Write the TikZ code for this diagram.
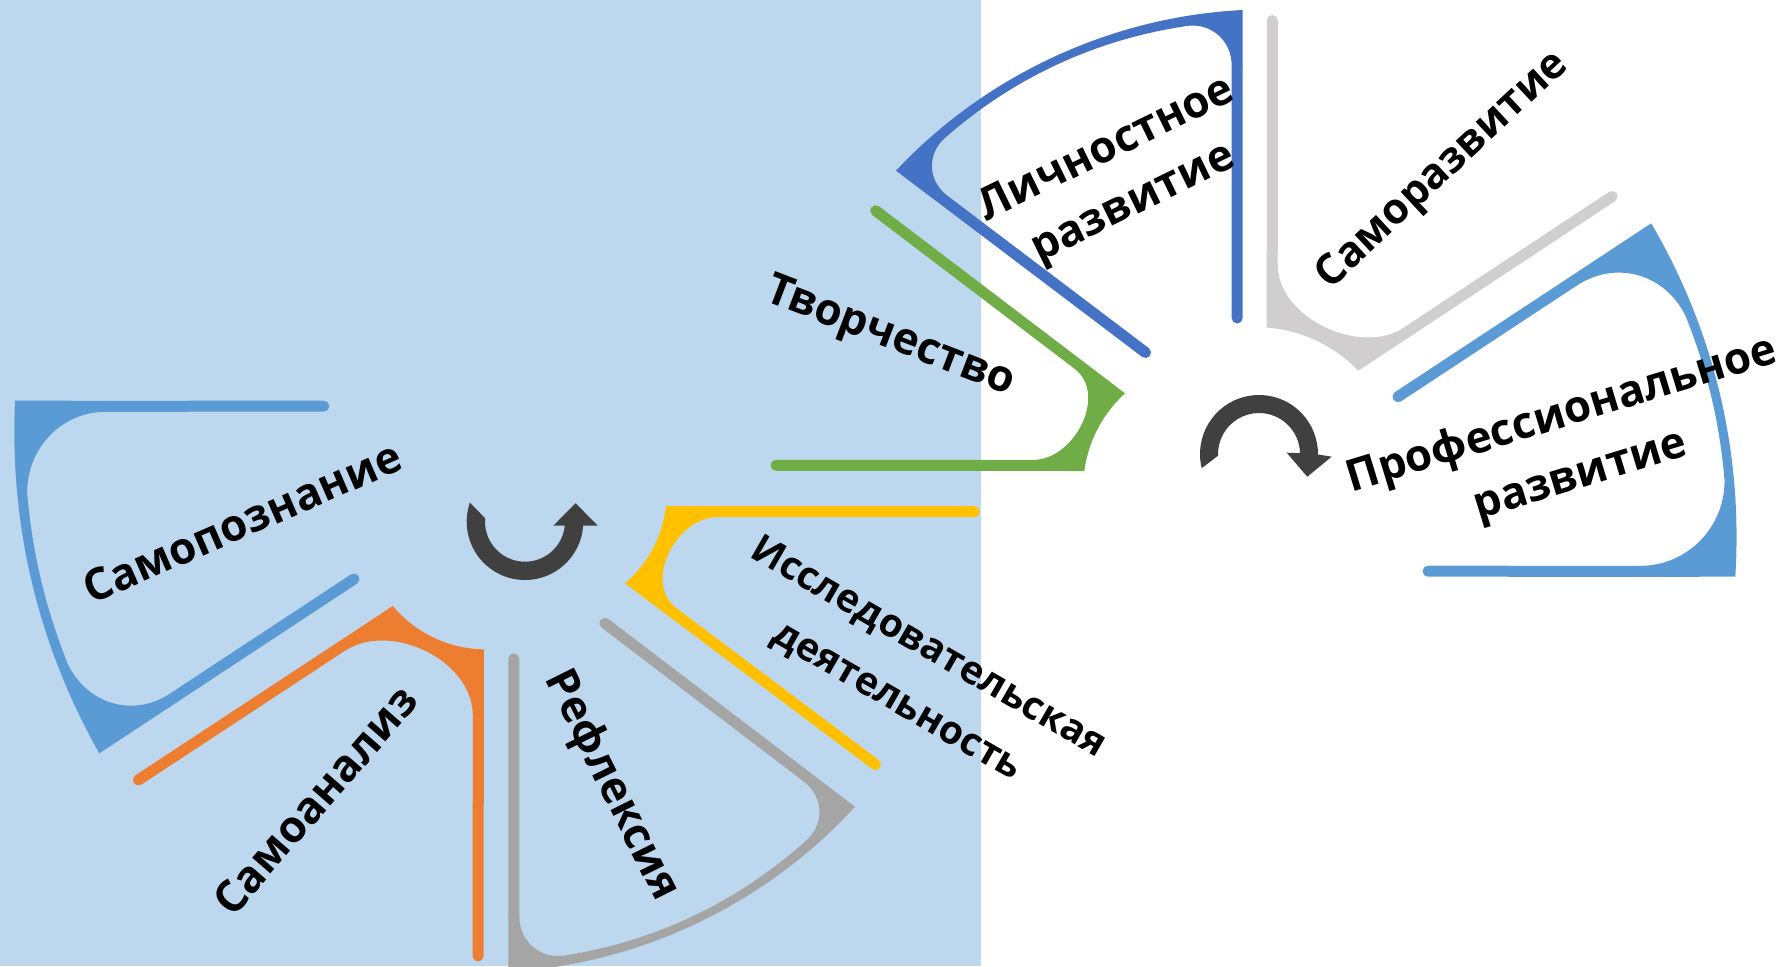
\documentclass[tikz,border=0pt]{standalone}
\usepackage{fontspec}
\setmainfont{Open Sans}
\usetikzlibrary{calc}
\definecolor{bgblue}{HTML}{BDD7EE}
\definecolor{cLich}{HTML}{4472C4}
\definecolor{cSamoraz}{HTML}{D0CECE}
\definecolor{cProf}{HTML}{5B9BD5}
\definecolor{cTvor}{HTML}{70AD47}
\definecolor{cIssl}{HTML}{FFC000}
\definecolor{cRefl}{HTML}{A5A5A5}
\definecolor{cSamoan}{HTML}{ED7D31}
\definecolor{cSamopoz}{HTML}{5B9BD5}
\definecolor{arrowgray}{HTML}{404040}
\def\W{5.5pt}
\def\Wh{2.75pt}
\newcommand\segbase[6]{%
  \coordinate (E1) at (#1);
  \coordinate (Q1) at (#2);
  \coordinate (Q2) at (#3);
  \coordinate (E2) at (#4);
  \pgfmathsetmacro\bb{#5}%
  \pgfmathsetmacro\bo{-(#5)}%
  \pgfmathsetmacro\bi{180+(#5)}%
  \pgfmathsetmacro\aone{90-(#5)}%
  \pgfmathsetmacro\atwo{(#5)-90}%
  \def\R{#6}%
  \coordinate (La) at ($(Q1)!\W!-90:(E1)$);
  \coordinate (Lb) at ($(E1)!\Wh!90:(Q1)$);
  \coordinate (Ma) at ($(Q2)!\W!90:(E2)$);
  \coordinate (Mb) at ($(E2)!\Wh!-90:(Q2)$);
  \coordinate (O1a) at ($(Q1)!\W!\aone:(Q2)$);
  \coordinate (D1) at ($(Q1)!10pt!\bo:(Q2)$);
  \coordinate (O1b) at ($(O1a)+(D1)-(Q1)$);
  \coordinate (O2a) at ($(Q2)!\W!\atwo:(Q1)$);
  \coordinate (D2) at ($(Q2)!10pt!\bb:(Q1)$);
  \coordinate (O2b) at ($(O2a)+(D2)-(Q2)$);
  \coordinate (I1) at (intersection of La--Lb and O1a--O1b);
  \coordinate (I2) at (intersection of Ma--Mb and O2a--O2b);
  \coordinate (J1) at ($(I1)!\R!(Lb)$);
  \coordinate (J2) at ($(I2)!\R!(Mb)$);
  \coordinate (P1) at ($(J1)!\W!90:(Lb)$);
  \coordinate (P2) at ($(J2)!\W!-90:(Mb)$);
  \coordinate (C1) at ($(J1)!\Wh!90:(Lb)$);
  \coordinate (C2) at ($(J2)!\Wh!-90:(Mb)$);
}
% outer-closed segment
\newcommand\segU[8]{%
  \segbase{#2}{#3}{#4}{#5}{#6}{#7}%
  \pgfmathsetmacro\pp{1-(#8)}%
  \pgfmathsetmacro\bk{(#6)*(1-2*(#8))}%
  \pgfmathsetmacro\bkin{180-\bk}%
  \path (I1) to[out=\bo,in=\bi,relative,looseness=0.88] coordinate[pos=#8] (K1) coordinate[pos=\pp] (K2) (I2);
  \fill[#1] (P1) -- (Q1) to[out=\bo,in=\bi,relative,looseness=0.88] (Q2) -- (P2) -- (J2)
     .. controls ($(J2)!0.55!(I2)$) and ($(K2)!0.55!(I2)$) .. (K2)
     to[out=\bk,in=\bkin,relative,looseness=0.88] (K1)
     .. controls ($(K1)!0.55!(I1)$) and ($(J1)!0.55!(I1)$) .. (J1) -- cycle;
  \draw[#1,line width=\W,line cap=round] (C1) -- (E1) (C2) -- (E2);
}
% inner-closed segment
\newcommand\segV[7]{%
  \segbase{#2}{#3}{#4}{#5}{#6}{#7}%
  \fill[#1] (P1) -- (Q1) to[out=\bo,in=\bi,relative,looseness=0.88] (Q2) -- (P2) -- (J2)
     .. controls (I2) and (I1) .. (J1) -- cycle;
  \draw[#1,line width=\W,line cap=round] (C1) -- (E1) (C2) -- (E2);
}
\tikzset{lbl/.style={font=\fontsize{22}{30}\selectfont\bfseries, align=center, inner sep=0pt, text=black}}
\begin{document}
\begin{tikzpicture}[x=0.5pt,y=0.5pt]
\useasboundingbox (0,0) rectangle (1785,-966);
\clip (0,0) rectangle (1785,-966);
\fill[bgblue] (0,0) rectangle (981,-966);
% right group
\segV{cTvor}{776,-465.3}{1084.3,-471}{1125,-393.3}{875.7,-210.7}{-20}{21pt}
\segU{cLich}{1237.2,-318}{1242.7,-10}{896,-170.7}{1145.5,-352.5}{22}{22pt}{0.12}
\segV{cSamoraz}{1272.3,-20.5}{1266.5,-327.5}{1358.3,-370.7}{1612,-196.5}{-21}{26pt}
\segU{cProf}{1428,-571.2}{1735.3,-576.7}{1651.2,-223.3}{1398,-396.7}{17}{42.5pt}{0.25}
% left group
\segV{cIssl}{974.3,-511.7}{666,-506}{625,-583.3}{875.5,-764.5}{-22}{21pt}
\segU{cRefl}{513.8,-658.8}{508.3,-972}{855,-806.7}{605,-623.3}{22}{22pt}{0.12}
\segV{cSamoan}{478.1,-956}{483.8,-649.3}{392.8,-606}{138.3,-780}{-25}{27.5pt}
\segU{cSamopoz}{323.8,-406.2}{15,-400.7}{99.3,-753.3}{354,-579}{16}{40pt}{0.24}
% circular arrows
\coordinate (Cr) at (1259,-454);
\fill[arrowgray] ($(Cr)+(193.9:59)$) arc[start angle=193.9,end angle=-0.5,radius=59]
  -- ($(Cr)+(-2.1:72.7)$) -- ($(Cr)+(-25.2:53.4)$) -- ($(Cr)+(2.7:27.7)$)
  -- ($(Cr)+(1.2:41)$) arc[start angle=1.2,end angle=182.4,radius=41] -- cycle;
\coordinate (Cl) at (525,-521.7);
\fill[arrowgray] ($(Cl)+(160.9:58.3)$) arc[start angle=160.9,end angle=356.1,radius=58.3]
  -- ($(Cl)+(356.9:72.8)$) -- ($(Cl)+(20:53.9)$) -- ($(Cl)+(352:28.6)$)
  -- ($(Cl)+(354.3:40)$) arc[start angle=354.3,end angle=175.1,radius=40] -- cycle;
% labels
\node[lbl, rotate=26] (tLich) at (1120.5,-177.5) {Личностное\\развитие};
\node[lbl, rotate=43, font=\fontsize{21.2}{30}\selectfont\bfseries] (tSamoraz) at (1443,-171) {Саморазвитие};
\node[lbl, rotate=17, font=\fontsize{22}{31.5}\selectfont\bfseries] (tProf) at (1571.5,-446) {Профессиональное\\развитие};
\node[lbl, rotate=-21] (tTvor) at (890,-338) {Творчество};
\node[lbl, rotate=-30, font=\fontsize{19.5}{31}\selectfont\bfseries] (tIssl) at (912.5,-675) {Исследовательская\\деятельность};
\node[lbl, rotate=23.5] (tSamopoz) at (242,-522) {Самопознание};
\node[lbl, rotate=49] (tSamoan) at (315,-800) {Самоанализ};
\node[lbl, rotate=-63.5] (tRefl) at (611,-786) {Рефлексия};
\end{tikzpicture}
\end{document}
